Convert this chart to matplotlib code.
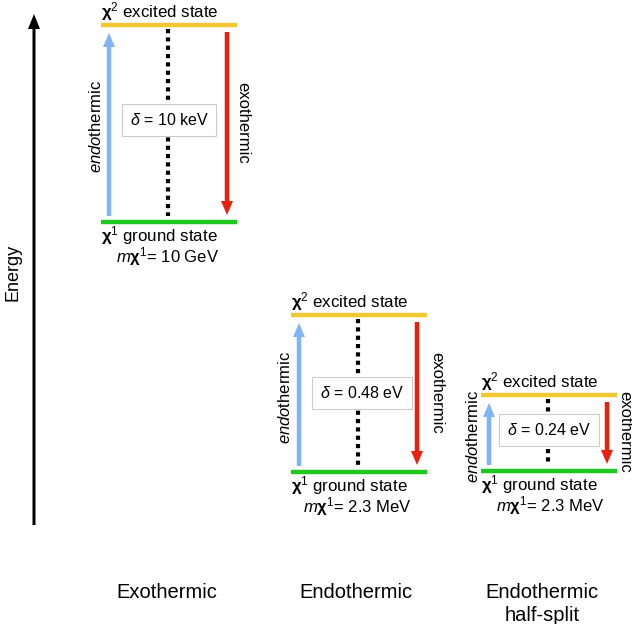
import matplotlib.pyplot as plt
from matplotlib.patches import FancyArrow

plt.rcParams['font.family'] = ['Liberation Sans', 'DejaVu Sans']
plt.rcParams['mathtext.fontset'] = 'custom'
plt.rcParams['mathtext.rm'] = 'Liberation Sans'
plt.rcParams['mathtext.it'] = 'Liberation Sans:italic'
plt.rcParams['mathtext.bf'] = 'Liberation Sans:bold'

# scenarios and their labels
titles = ['Exothermic', 'Endothermic', 'Endothermic\nhalf-split']
deltas = [r'$\delta$ = 10 keV', r'$\delta$ = 0.48 eV', r'$\delta$ = 0.24 eV']
masses = [r'$m\mathbf{\chi}^{1}$= 10 GeV', r'$m\mathbf{\chi}^{1}$= 2.3 MeV', r'$m\mathbf{\chi}^{1}$= 2.3 MeV']

# diagram layout (pixel units of the canvas)
x_left = [101, 291, 481]
x_right = [237, 427, 617]
y_excited = [25, 315, 395]
y_ground = [222, 472, 471]
box_center = [(169, 120), (362, 393), (549, 430)]
endo_pos = [(96, 126), (285, 397), (473, 436)]
exo_pos = [(243, 123), (437, 393), (625, 432)]
mass_x = [168, 357, 550]
title_x = [167, 356, 542]

yellow = '#f2c832'
green = '#1fc81f'
blue = '#80b4f2'
red = '#e8200e'

fig = plt.figure(figsize=(6.32, 6.24), dpi=100)
ax = fig.add_axes([0, 0, 1, 1])
ax.set_xlim(0, 632)
ax.set_ylim(624, 0)
ax.axis('off')

# energy axis
ax.add_patch(FancyArrow(34, 525, 0, -511, width=3, head_width=12, head_length=15,
                        length_includes_head=True, color='black', lw=0))
ax.text(13, 272, 'Energy', rotation=90, ha='center', va='center', fontsize=13)

for i in range(3):
    xl, xr = x_left[i], x_right[i]
    yu, yd = y_excited[i], y_ground[i]
    xb = xl + 8
    xm = xl + 67
    xr_arr = xr - 10

    ax.plot([xl, xr], [yu, yu], color=yellow, lw=3.2, solid_capstyle='butt')
    ax.plot([xl, xr], [yd, yd], color=green, lw=3.2, solid_capstyle='butt')

    # transition arrows
    ax.add_patch(FancyArrow(xb, yd - 6, 0, -(yd - yu - 14), width=4.5, head_width=12,
                            head_length=14, length_includes_head=True, color=blue, lw=0))
    ax.add_patch(FancyArrow(xr_arr, yu + 7, 0, (yd - yu - 14), width=4.5, head_width=12,
                            head_length=14, length_includes_head=True, color=red, lw=0))

    # mass splitting line and label
    ax.plot([xm, xm], [yu + 4, yd - 6], color='black', lw=3, linestyle=(0, (1, 1)))
    bx, by = box_center[i]
    ax.text(bx, by, deltas[i], ha='center', va='center', fontsize=11.5, zorder=5,
            bbox=dict(boxstyle='square,pad=0.5', fc='white', ec='#cccccc', lw=0.8))

    ax.text(xl, yu - 13, r'$\mathbf{\chi}^{2}$ excited state', ha='left',
            va='center', fontsize=12.2)
    ax.text(xl, yd + 14, r'$\mathbf{\chi}^{1}$ ground state', ha='left',
            va='center', fontsize=12.2)
    ax.text(mass_x[i], yd + 35, masses[i], ha='center', va='center', fontsize=12)

    ax.text(*endo_pos[i], r'$endo$thermic', rotation=90, ha='center', va='center',
            fontsize=12)
    ax.text(*exo_pos[i], 'exothermic', rotation=270, ha='center', va='center',
            fontsize=12)

    ax.text(title_x[i], 583, titles[i], ha='center', va='top',
            fontsize=14.5, linespacing=1.25)

fig.savefig('out.png', dpi=100)
